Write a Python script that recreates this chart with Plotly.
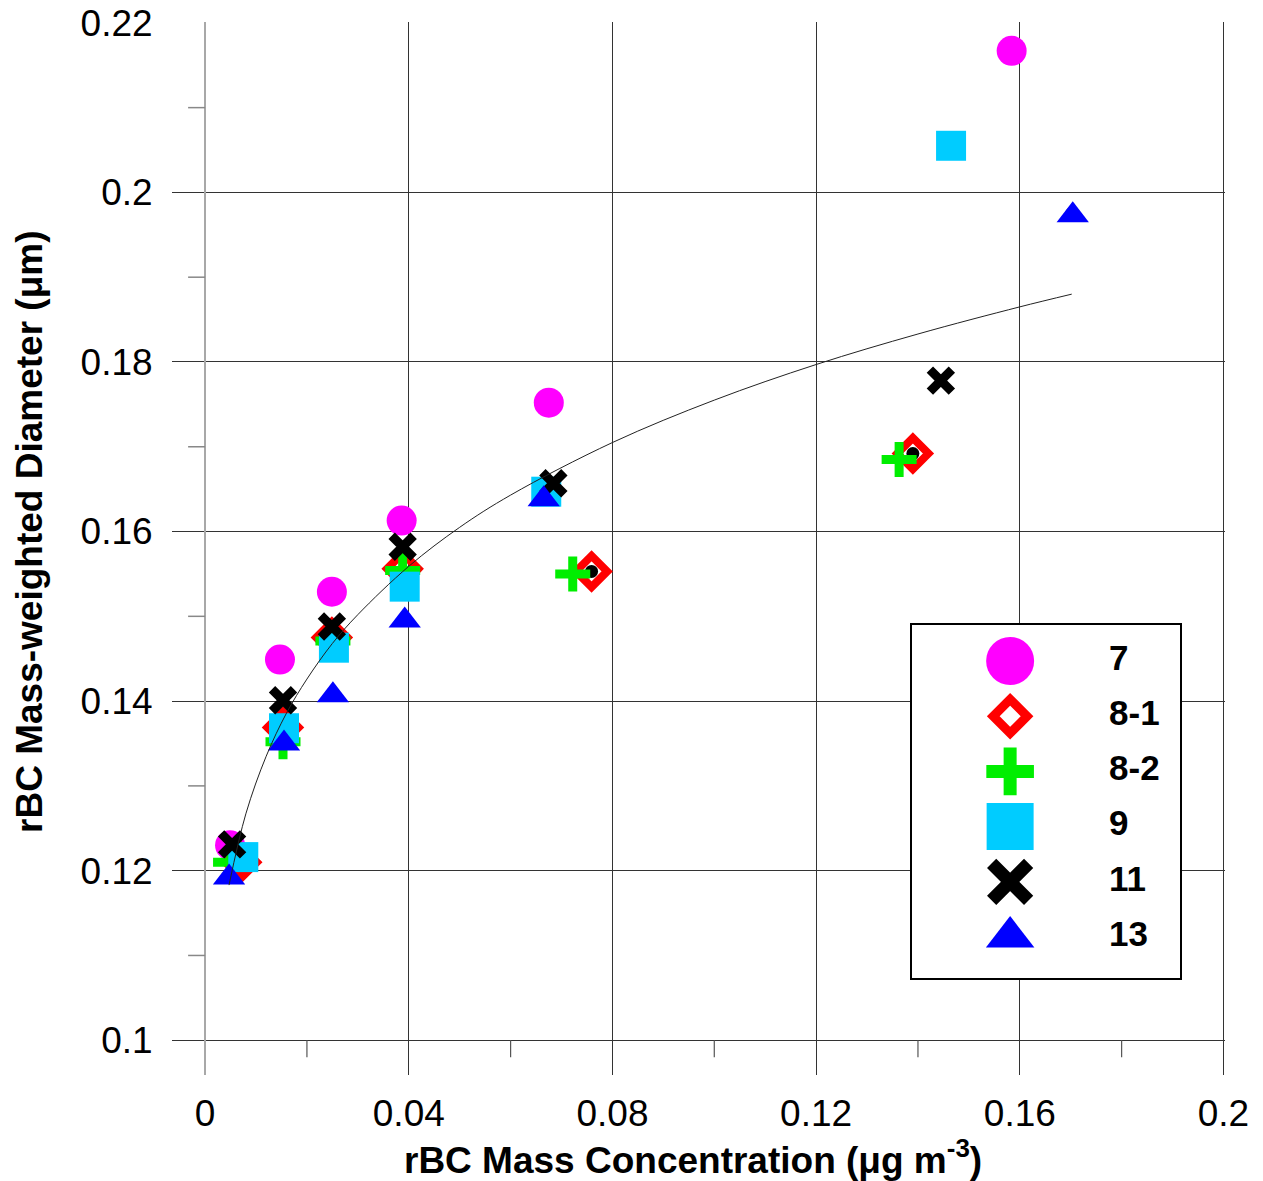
import plotly.graph_objects as go

# ---------------- data ----------------
s7_x = [0.0049, 0.0147, 0.0249, 0.0386, 0.0675, 0.1584]
s7_y = [0.1230, 0.1449, 0.1529, 0.1613, 0.1752, 0.2167]

s81_x = [0.0071, 0.0153, 0.0249, 0.0388, 0.0759, 0.1390]
s81_y = [0.1210, 0.1369, 0.1475, 0.1556, 0.1553, 0.1692]

s82_x = [0.0050, 0.0153, 0.0251, 0.0388, 0.0722, 0.1363]
s82_y = [0.1210, 0.1352, 0.1471, 0.1554, 0.1550, 0.1685]

s9_x = [0.0075, 0.0155, 0.0253, 0.0392, 0.0670, 0.1465]
s9_y = [0.1216, 0.1368, 0.1463, 0.1535, 0.1647, 0.2055]

s11_x = [0.0053, 0.0153, 0.0249, 0.0388, 0.0684, 0.1445]
s11_y = [0.1231, 0.1401, 0.1488, 0.1582, 0.1657, 0.1778]

s13_x = [0.0047, 0.0155, 0.0251, 0.0392, 0.0665, 0.1704]
s13_y = [0.1192, 0.1350, 0.1407, 0.1495, 0.1638, 0.1973]

# small black points partly hidden beneath markers
dot_x = [0.0759, 0.1390, 0.1702]
dot_y = [0.1553, 0.1692, 0.1975]

# fitted curve
fit_x = [0.0047, 0.008, 0.012, 0.016, 0.02, 0.025, 0.03, 0.04, 0.05, 0.06,
         0.08, 0.10, 0.12, 0.14, 0.16, 0.1702]
fit_y = [0.1183, 0.1267, 0.1335, 0.1386, 0.1426, 0.1468, 0.1502, 0.1559, 0.1605, 0.1643,
         0.1705, 0.1755, 0.1797, 0.1833, 0.1865, 0.1880]

series_names = ["7", "8-1", "8-2", "9", "11", "13"]

x_tickvals = [0, 0.04, 0.08, 0.12, 0.16, 0.2]
x_ticktext = ["0", "0.04", "0.08", "0.12", "0.16", "0.2"]
y_tickvals = [0.10, 0.12, 0.14, 0.16, 0.18, 0.20, 0.22]
y_ticktext = ["0.1", "0.12", "0.14", "0.16", "0.18", "0.2", "0.22"]
x_minor = [0.02, 0.06, 0.10, 0.14, 0.18]
y_minor = [0.11, 0.13, 0.15, 0.17, 0.19, 0.21]

# ---------------- styles ----------------
FONT = "Liberation Sans, Arial, sans-serif"
styles = {
    "7":   dict(symbol="circle", color="#ff00ff", size=30, lw=0, lsize=48, llw=0),
    "8-1": dict(symbol="diamond-open", color="#ff0000", size=24, lw=8, lsize=26, llw=9),
    "8-2": dict(symbol="cross-thin-open", color="#00ee00", size=25, lw=9, lsize=34, llw=13),
    "9":   dict(symbol="square", color="#00ccff", size=30, lw=0, lsize=47, llw=0),
    "11":  dict(symbol="x-thin-open", color="#000000", size=22, lw=9, lsize=37, llw=13),
    "13":  dict(symbol="triangle-up", color="#0000ff", size=28, lw=0, lsize=42, llw=0),
}

fig = go.Figure()

def add_series(name, xs, ys):
    st = styles[name]
    fig.add_trace(go.Scatter(
        x=xs, y=ys, mode="markers", name=name, showlegend=False,
        marker=dict(symbol=st["symbol"], color=st["color"], size=st["size"], opacity=1,
                    line=dict(width=st["lw"], color=st["color"]))))

add_series("7", s7_x, s7_y)
add_series("8-1", s81_x, s81_y)
fig.add_trace(go.Scatter(x=dot_x, y=dot_y, mode="markers", showlegend=False,
                         marker=dict(symbol="circle", color="black", size=13)))
add_series("8-2", s82_x, s82_y)
add_series("9", s9_x, s9_y)
add_series("11", s11_x, s11_y)
add_series("13", s13_x, s13_y)

fig.add_trace(go.Scatter(x=fit_x, y=fit_y, mode="lines", showlegend=False,
                         line=dict(color="#222222", width=1, shape="spline")))

# ---------------- custom legend on its own axes ----------------
leg_top, leg_bot = 0.652, -5.743
fig.add_trace(go.Scatter(
    x=[0, 1, 1, 0, 0], y=[leg_bot, leg_bot, leg_top, leg_top, leg_bot],
    xaxis="x2", yaxis="y2", mode="lines", fill="toself", fillcolor="white",
    line=dict(width=0, color="white"), hoverinfo="skip", showlegend=False))
rows = [-i for i in range(len(series_names))]
fig.add_trace(go.Scatter(
    x=[0.366] * len(series_names), y=rows, xaxis="x2", yaxis="y2",
    mode="markers", showlegend=False, hoverinfo="skip",
    marker=dict(symbol=[styles[n]["symbol"] for n in series_names],
                color=[styles[n]["color"] for n in series_names],
                size=[styles[n]["lsize"] for n in series_names],
                opacity=1,
                line=dict(width=[styles[n]["llw"] for n in series_names],
                          color=[styles[n]["color"] for n in series_names]))))
fig.add_trace(go.Scatter(
    x=[0.735] * len(series_names), y=rows, xaxis="x2", yaxis="y2",
    mode="text", text=series_names, textposition="middle right",
    textfont=dict(family=FONT, size=35, color="black", weight="bold"),
    showlegend=False, hoverinfo="skip"))

# ---------------- minor ticks ----------------
shapes = []
for v in y_minor:
    shapes.append(dict(type="line", xref="x", yref="y", xsizemode="pixel", xanchor=0,
                       x0=-17, x1=0, y0=v, y1=v, line=dict(color="#888888", width=1.5)))
for v in x_minor:
    shapes.append(dict(type="line", xref="x", yref="y", ysizemode="pixel", yanchor=0.1,
                       y0=-17, y1=0, x0=v, x1=v, line=dict(color="#555555", width=1.2)))

axis_font = dict(family=FONT, size=37, color="black")
fig.update_layout(
    width=1263, height=1181, autosize=False,
    margin=dict(l=172, r=38, t=22, b=106, pad=0),
    paper_bgcolor="white", plot_bgcolor="white",
    font=dict(family=FONT),
    showlegend=False,
    shapes=shapes,
    xaxis=dict(range=[-0.0065, 0.2003], tickvals=x_tickvals, ticktext=x_ticktext,
               automargin=False,
               showgrid=True, gridcolor="#333333", gridwidth=1,
               zeroline=True, zerolinecolor="#a8a8a8", zerolinewidth=2,
               showline=False, ticks="outside", ticklen=6, tickcolor="rgba(0,0,0,0)",
               tickfont=axis_font),
    yaxis=dict(range=[0.0959, 0.2201], tickvals=y_tickvals, ticktext=y_ticktext,
               automargin=False,
               showgrid=True, gridcolor="#333333", gridwidth=1,
               zeroline=False, showline=False,
               ticks="outside", ticklen=11, tickcolor="rgba(0,0,0,0)",
               tickfont=axis_font),
    xaxis2=dict(domain=[0.7028, 0.9573], range=[0, 1], anchor="y2", automargin=False,
                showgrid=False, zeroline=False, showticklabels=False, ticks="",
                showline=True, mirror=True, linecolor="black", linewidth=2),
    yaxis2=dict(domain=[0.0921, 0.4273], range=[leg_bot, leg_top], anchor="x2",
                automargin=False,
                showgrid=False, zeroline=False, showticklabels=False, ticks="",
                showline=True, mirror=True, linecolor="black", linewidth=2),
    annotations=[
        dict(text="rBC Mass Concentration (μg m<sup>-3</sup>)", xref="paper", yref="paper",
             x=0.495, y=-0.0788, xanchor="center", yanchor="middle", showarrow=False,
             font=dict(family=FONT, size=37, color="black", weight="bold")),
        dict(text="rBC Mass-weighted Diameter (μm)", xref="paper", yref="paper",
             x=-0.1349, y=0.5157, xanchor="center", yanchor="middle", showarrow=False,
             textangle=-90, font=dict(family=FONT, size=37, color="black", weight="bold")),
    ],
)

fig.write_html("out.html", config={"displayModeBar": False},
               post_script="document.body.style.margin='0px';")
